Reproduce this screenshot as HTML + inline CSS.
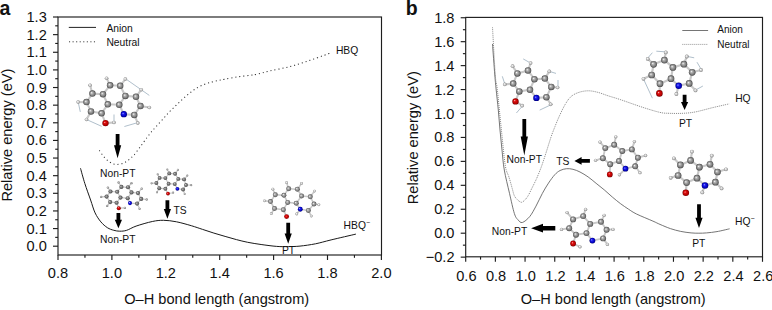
<!DOCTYPE html>
<html><head><meta charset="utf-8"><style>html,body{margin:0;padding:0;background:#fff;}svg{display:block;}</style></head><body>
<svg width="772" height="310" viewBox="0 0 772 310" font-family='"Liberation Sans", sans-serif' fill="#111">
<defs>
<radialGradient id="gC" cx="0.5" cy="0.5" r="0.5" fx="0.36" fy="0.36">
 <stop offset="0" stop-color="#c8c8c8"/><stop offset="0.35" stop-color="#8c8c8c"/><stop offset="0.8" stop-color="#5e5e5e"/><stop offset="1" stop-color="#444444"/></radialGradient>
<radialGradient id="gH" cx="0.5" cy="0.5" r="0.5" fx="0.36" fy="0.36">
 <stop offset="0" stop-color="#d4d4d4"/><stop offset="0.4" stop-color="#a8a8a8"/><stop offset="1" stop-color="#808080"/></radialGradient>
<radialGradient id="gO" cx="0.5" cy="0.5" r="0.5" fx="0.36" fy="0.36">
 <stop offset="0" stop-color="#ffb0b0"/><stop offset="0.3" stop-color="#e01010"/><stop offset="0.8" stop-color="#b00000"/><stop offset="1" stop-color="#700000"/></radialGradient>
<radialGradient id="gN" cx="0.5" cy="0.5" r="0.5" fx="0.36" fy="0.36">
 <stop offset="0" stop-color="#b0b0ff"/><stop offset="0.3" stop-color="#2020f0"/><stop offset="0.8" stop-color="#0000b8"/><stop offset="1" stop-color="#000070"/></radialGradient>
<radialGradient id="gCl" cx="0.5" cy="0.5" r="0.5" fx="0.36" fy="0.36">
 <stop offset="0" stop-color="#fafafa"/><stop offset="0.3" stop-color="#b4b4b4"/><stop offset="0.75" stop-color="#7a7a7a"/><stop offset="1" stop-color="#484848"/></radialGradient>
<radialGradient id="gHl" cx="0.5" cy="0.5" r="0.5" fx="0.36" fy="0.36">
 <stop offset="0" stop-color="#ffffff"/><stop offset="0.35" stop-color="#dedede"/><stop offset="0.8" stop-color="#a6a6a6"/><stop offset="1" stop-color="#7a7a7a"/></radialGradient>
</defs>
<rect width="772" height="310" fill="#fff"/>
<text x="-0.6" y="14.8" font-size="19.5" font-weight="bold">a</text>
<text x="405.8" y="14.8" font-size="19.5" font-weight="bold">b</text>
<rect x="58" y="17" width="323.5" height="238" fill="none" stroke="#1e1e1e" stroke-width="1.15"/>
<line x1="58" y1="255" x2="58" y2="260" stroke="#1e1e1e" stroke-width="1.15"/>
<line x1="111.9" y1="255" x2="111.9" y2="260" stroke="#1e1e1e" stroke-width="1.15"/>
<line x1="165.8" y1="255" x2="165.8" y2="260" stroke="#1e1e1e" stroke-width="1.15"/>
<line x1="219.7" y1="255" x2="219.7" y2="260" stroke="#1e1e1e" stroke-width="1.15"/>
<line x1="273.6" y1="255" x2="273.6" y2="260" stroke="#1e1e1e" stroke-width="1.15"/>
<line x1="327.5" y1="255" x2="327.5" y2="260" stroke="#1e1e1e" stroke-width="1.15"/>
<line x1="381.4" y1="255" x2="381.4" y2="260" stroke="#1e1e1e" stroke-width="1.15"/>
<line x1="84.95" y1="255" x2="84.95" y2="257.8" stroke="#1e1e1e" stroke-width="1.15"/>
<line x1="138.85" y1="255" x2="138.85" y2="257.8" stroke="#1e1e1e" stroke-width="1.15"/>
<line x1="192.75" y1="255" x2="192.75" y2="257.8" stroke="#1e1e1e" stroke-width="1.15"/>
<line x1="246.65" y1="255" x2="246.65" y2="257.8" stroke="#1e1e1e" stroke-width="1.15"/>
<line x1="300.55" y1="255" x2="300.55" y2="257.8" stroke="#1e1e1e" stroke-width="1.15"/>
<line x1="354.45" y1="255" x2="354.45" y2="257.8" stroke="#1e1e1e" stroke-width="1.15"/>
<line x1="53" y1="246.2" x2="58" y2="246.2" stroke="#1e1e1e" stroke-width="1.15"/>
<line x1="53" y1="228.57" x2="58" y2="228.57" stroke="#1e1e1e" stroke-width="1.15"/>
<line x1="53" y1="210.94" x2="58" y2="210.94" stroke="#1e1e1e" stroke-width="1.15"/>
<line x1="53" y1="193.31" x2="58" y2="193.31" stroke="#1e1e1e" stroke-width="1.15"/>
<line x1="53" y1="175.68" x2="58" y2="175.68" stroke="#1e1e1e" stroke-width="1.15"/>
<line x1="53" y1="158.05" x2="58" y2="158.05" stroke="#1e1e1e" stroke-width="1.15"/>
<line x1="53" y1="140.42" x2="58" y2="140.42" stroke="#1e1e1e" stroke-width="1.15"/>
<line x1="53" y1="122.79" x2="58" y2="122.79" stroke="#1e1e1e" stroke-width="1.15"/>
<line x1="53" y1="105.16" x2="58" y2="105.16" stroke="#1e1e1e" stroke-width="1.15"/>
<line x1="53" y1="87.53" x2="58" y2="87.53" stroke="#1e1e1e" stroke-width="1.15"/>
<line x1="53" y1="69.9" x2="58" y2="69.9" stroke="#1e1e1e" stroke-width="1.15"/>
<line x1="53" y1="52.27" x2="58" y2="52.27" stroke="#1e1e1e" stroke-width="1.15"/>
<line x1="53" y1="34.64" x2="58" y2="34.64" stroke="#1e1e1e" stroke-width="1.15"/>
<line x1="53" y1="17.01" x2="58" y2="17.01" stroke="#1e1e1e" stroke-width="1.15"/>
<line x1="55.2" y1="237.38" x2="58" y2="237.38" stroke="#1e1e1e" stroke-width="1.15"/>
<line x1="55.2" y1="219.75" x2="58" y2="219.75" stroke="#1e1e1e" stroke-width="1.15"/>
<line x1="55.2" y1="202.12" x2="58" y2="202.12" stroke="#1e1e1e" stroke-width="1.15"/>
<line x1="55.2" y1="184.49" x2="58" y2="184.49" stroke="#1e1e1e" stroke-width="1.15"/>
<line x1="55.2" y1="166.86" x2="58" y2="166.86" stroke="#1e1e1e" stroke-width="1.15"/>
<line x1="55.2" y1="149.23" x2="58" y2="149.23" stroke="#1e1e1e" stroke-width="1.15"/>
<line x1="55.2" y1="131.6" x2="58" y2="131.6" stroke="#1e1e1e" stroke-width="1.15"/>
<line x1="55.2" y1="113.97" x2="58" y2="113.97" stroke="#1e1e1e" stroke-width="1.15"/>
<line x1="55.2" y1="96.34" x2="58" y2="96.34" stroke="#1e1e1e" stroke-width="1.15"/>
<line x1="55.2" y1="78.71" x2="58" y2="78.71" stroke="#1e1e1e" stroke-width="1.15"/>
<line x1="55.2" y1="61.08" x2="58" y2="61.08" stroke="#1e1e1e" stroke-width="1.15"/>
<line x1="55.2" y1="43.45" x2="58" y2="43.45" stroke="#1e1e1e" stroke-width="1.15"/>
<line x1="55.2" y1="25.82" x2="58" y2="25.82" stroke="#1e1e1e" stroke-width="1.15"/>
<text x="58" y="278" text-anchor="middle" font-size="14.6">0.8</text>
<text x="111.9" y="278" text-anchor="middle" font-size="14.6">1.0</text>
<text x="165.8" y="278" text-anchor="middle" font-size="14.6">1.2</text>
<text x="219.7" y="278" text-anchor="middle" font-size="14.6">1.4</text>
<text x="273.6" y="278" text-anchor="middle" font-size="14.6">1.6</text>
<text x="327.5" y="278" text-anchor="middle" font-size="14.6">1.8</text>
<text x="381.4" y="278" text-anchor="middle" font-size="14.6">2.0</text>
<text x="46.8" y="251.2" text-anchor="end" font-size="14.6">0.0</text>
<text x="46.8" y="233.57" text-anchor="end" font-size="14.6">0.1</text>
<text x="46.8" y="215.94" text-anchor="end" font-size="14.6">0.2</text>
<text x="46.8" y="198.31" text-anchor="end" font-size="14.6">0.3</text>
<text x="46.8" y="180.68" text-anchor="end" font-size="14.6">0.4</text>
<text x="46.8" y="163.05" text-anchor="end" font-size="14.6">0.5</text>
<text x="46.8" y="145.42" text-anchor="end" font-size="14.6">0.6</text>
<text x="46.8" y="127.79" text-anchor="end" font-size="14.6">0.7</text>
<text x="46.8" y="110.16" text-anchor="end" font-size="14.6">0.8</text>
<text x="46.8" y="92.53" text-anchor="end" font-size="14.6">0.9</text>
<text x="46.8" y="74.9" text-anchor="end" font-size="14.6">1.0</text>
<text x="46.8" y="57.27" text-anchor="end" font-size="14.6">1.1</text>
<text x="46.8" y="39.64" text-anchor="end" font-size="14.6">1.2</text>
<text x="46.8" y="22.01" text-anchor="end" font-size="14.6">1.3</text>
<rect x="465.7" y="17.4" width="296.8" height="239.4" fill="none" stroke="#1e1e1e" stroke-width="1.15"/>
<line x1="465.7" y1="256.8" x2="465.7" y2="261.8" stroke="#1e1e1e" stroke-width="1.15"/>
<line x1="495.38" y1="256.8" x2="495.38" y2="261.8" stroke="#1e1e1e" stroke-width="1.15"/>
<line x1="525.06" y1="256.8" x2="525.06" y2="261.8" stroke="#1e1e1e" stroke-width="1.15"/>
<line x1="554.74" y1="256.8" x2="554.74" y2="261.8" stroke="#1e1e1e" stroke-width="1.15"/>
<line x1="584.42" y1="256.8" x2="584.42" y2="261.8" stroke="#1e1e1e" stroke-width="1.15"/>
<line x1="614.1" y1="256.8" x2="614.1" y2="261.8" stroke="#1e1e1e" stroke-width="1.15"/>
<line x1="643.78" y1="256.8" x2="643.78" y2="261.8" stroke="#1e1e1e" stroke-width="1.15"/>
<line x1="673.46" y1="256.8" x2="673.46" y2="261.8" stroke="#1e1e1e" stroke-width="1.15"/>
<line x1="703.14" y1="256.8" x2="703.14" y2="261.8" stroke="#1e1e1e" stroke-width="1.15"/>
<line x1="732.82" y1="256.8" x2="732.82" y2="261.8" stroke="#1e1e1e" stroke-width="1.15"/>
<line x1="762.5" y1="256.8" x2="762.5" y2="261.8" stroke="#1e1e1e" stroke-width="1.15"/>
<line x1="480.54" y1="256.8" x2="480.54" y2="259.6" stroke="#1e1e1e" stroke-width="1.15"/>
<line x1="510.22" y1="256.8" x2="510.22" y2="259.6" stroke="#1e1e1e" stroke-width="1.15"/>
<line x1="539.9" y1="256.8" x2="539.9" y2="259.6" stroke="#1e1e1e" stroke-width="1.15"/>
<line x1="569.58" y1="256.8" x2="569.58" y2="259.6" stroke="#1e1e1e" stroke-width="1.15"/>
<line x1="599.26" y1="256.8" x2="599.26" y2="259.6" stroke="#1e1e1e" stroke-width="1.15"/>
<line x1="628.94" y1="256.8" x2="628.94" y2="259.6" stroke="#1e1e1e" stroke-width="1.15"/>
<line x1="658.62" y1="256.8" x2="658.62" y2="259.6" stroke="#1e1e1e" stroke-width="1.15"/>
<line x1="688.3" y1="256.8" x2="688.3" y2="259.6" stroke="#1e1e1e" stroke-width="1.15"/>
<line x1="717.98" y1="256.8" x2="717.98" y2="259.6" stroke="#1e1e1e" stroke-width="1.15"/>
<line x1="747.66" y1="256.8" x2="747.66" y2="259.6" stroke="#1e1e1e" stroke-width="1.15"/>
<line x1="460.7" y1="257.14" x2="465.7" y2="257.14" stroke="#1e1e1e" stroke-width="1.15"/>
<line x1="460.7" y1="233.2" x2="465.7" y2="233.2" stroke="#1e1e1e" stroke-width="1.15"/>
<line x1="460.7" y1="209.26" x2="465.7" y2="209.26" stroke="#1e1e1e" stroke-width="1.15"/>
<line x1="460.7" y1="185.32" x2="465.7" y2="185.32" stroke="#1e1e1e" stroke-width="1.15"/>
<line x1="460.7" y1="161.38" x2="465.7" y2="161.38" stroke="#1e1e1e" stroke-width="1.15"/>
<line x1="460.7" y1="137.44" x2="465.7" y2="137.44" stroke="#1e1e1e" stroke-width="1.15"/>
<line x1="460.7" y1="113.5" x2="465.7" y2="113.5" stroke="#1e1e1e" stroke-width="1.15"/>
<line x1="460.7" y1="89.56" x2="465.7" y2="89.56" stroke="#1e1e1e" stroke-width="1.15"/>
<line x1="460.7" y1="65.62" x2="465.7" y2="65.62" stroke="#1e1e1e" stroke-width="1.15"/>
<line x1="460.7" y1="41.68" x2="465.7" y2="41.68" stroke="#1e1e1e" stroke-width="1.15"/>
<line x1="460.7" y1="17.74" x2="465.7" y2="17.74" stroke="#1e1e1e" stroke-width="1.15"/>
<line x1="462.9" y1="245.17" x2="465.7" y2="245.17" stroke="#1e1e1e" stroke-width="1.15"/>
<line x1="462.9" y1="221.23" x2="465.7" y2="221.23" stroke="#1e1e1e" stroke-width="1.15"/>
<line x1="462.9" y1="197.29" x2="465.7" y2="197.29" stroke="#1e1e1e" stroke-width="1.15"/>
<line x1="462.9" y1="173.35" x2="465.7" y2="173.35" stroke="#1e1e1e" stroke-width="1.15"/>
<line x1="462.9" y1="149.41" x2="465.7" y2="149.41" stroke="#1e1e1e" stroke-width="1.15"/>
<line x1="462.9" y1="125.47" x2="465.7" y2="125.47" stroke="#1e1e1e" stroke-width="1.15"/>
<line x1="462.9" y1="101.53" x2="465.7" y2="101.53" stroke="#1e1e1e" stroke-width="1.15"/>
<line x1="462.9" y1="77.59" x2="465.7" y2="77.59" stroke="#1e1e1e" stroke-width="1.15"/>
<line x1="462.9" y1="53.65" x2="465.7" y2="53.65" stroke="#1e1e1e" stroke-width="1.15"/>
<line x1="462.9" y1="29.71" x2="465.7" y2="29.71" stroke="#1e1e1e" stroke-width="1.15"/>
<text x="466.4" y="281.4" text-anchor="middle" font-size="14.6">0.6</text>
<text x="496.08" y="281.4" text-anchor="middle" font-size="14.6">0.8</text>
<text x="525.76" y="281.4" text-anchor="middle" font-size="14.6">1.0</text>
<text x="555.44" y="281.4" text-anchor="middle" font-size="14.6">1.2</text>
<text x="585.12" y="281.4" text-anchor="middle" font-size="14.6">1.4</text>
<text x="614.8" y="281.4" text-anchor="middle" font-size="14.6">1.6</text>
<text x="644.48" y="281.4" text-anchor="middle" font-size="14.6">1.8</text>
<text x="674.16" y="281.4" text-anchor="middle" font-size="14.6">2.0</text>
<text x="703.84" y="281.4" text-anchor="middle" font-size="14.6">2.2</text>
<text x="733.52" y="281.4" text-anchor="middle" font-size="14.6">2.4</text>
<text x="763.2" y="281.4" text-anchor="middle" font-size="14.6">2.6</text>
<text x="454.5" y="262.14" text-anchor="end" font-size="14.6">−0.2</text>
<text x="454.5" y="238.2" text-anchor="end" font-size="14.6">0.0</text>
<text x="454.5" y="214.26" text-anchor="end" font-size="14.6">0.2</text>
<text x="454.5" y="190.32" text-anchor="end" font-size="14.6">0.4</text>
<text x="454.5" y="166.38" text-anchor="end" font-size="14.6">0.6</text>
<text x="454.5" y="142.44" text-anchor="end" font-size="14.6">0.8</text>
<text x="454.5" y="118.5" text-anchor="end" font-size="14.6">1.0</text>
<text x="454.5" y="94.56" text-anchor="end" font-size="14.6">1.2</text>
<text x="454.5" y="70.62" text-anchor="end" font-size="14.6">1.4</text>
<text x="454.5" y="46.68" text-anchor="end" font-size="14.6">1.6</text>
<text x="454.5" y="22.74" text-anchor="end" font-size="14.6">1.8</text>
<text x="216.7" y="303.5" text-anchor="middle" font-size="14.6">O–H bond length (angstrom)</text>
<text x="613.2" y="303.5" text-anchor="middle" font-size="14.6">O–H bond length (angstrom)</text>
<text transform="translate(12.2,135.1) rotate(-90)" text-anchor="middle" font-size="14.6">Relative energy (eV)</text>
<text transform="translate(418.2,137.7) rotate(-90)" text-anchor="middle" font-size="14.6">Relative energy (eV)</text>
<line x1="68.8" y1="27.4" x2="96" y2="27.4" stroke="#222" stroke-width="1"/>
<line x1="69" y1="41.8" x2="96" y2="41.8" stroke="#3a3a3a" stroke-width="1" stroke-dasharray="1.1 2.46"/>
<text x="106.4" y="31.6" font-size="10.3">Anion</text>
<text x="106.4" y="45.5" font-size="10.3">Neutral</text>
<line x1="682.3" y1="30.5" x2="708.1" y2="30.5" stroke="#5c5c5c" stroke-width="0.85"/>
<line x1="682.3" y1="44.4" x2="708.1" y2="44.4" stroke="#888" stroke-width="0.9" stroke-dasharray="1 1"/>
<text x="717.3" y="33.1" font-size="10">Anion</text>
<text x="717.3" y="47.9" font-size="10">Neutral</text>
<path d="M80.5,168.3 C81.22,170.82 83.12,178.12 84.8,183.4 C86.48,188.68 88.88,195.08 90.6,200 C92.32,204.92 93.38,209.25 95.1,212.9 C96.82,216.55 98.85,219.43 100.9,221.9 C102.95,224.37 105.25,226.3 107.4,227.7 C109.55,229.1 111.73,229.72 113.8,230.3 C115.87,230.88 117.65,231.2 119.8,231.2 C121.95,231.2 123.98,231.15 126.7,230.3 C129.42,229.45 131.83,227.57 136.1,226.1 C140.37,224.63 147.73,222.47 152.3,221.5 C156.87,220.53 159.47,220.25 163.5,220.3 C167.53,220.35 171.87,220.9 176.5,221.8 C181.13,222.7 186.95,224.43 191.3,225.7 C195.65,226.97 198.83,228.17 202.6,229.4 C206.37,230.63 210.15,231.93 213.9,233.1 C217.65,234.27 221.35,235.32 225.1,236.4 C228.85,237.48 232.63,238.62 236.4,239.6 C240.17,240.58 243.58,241.48 247.7,242.3 C251.82,243.12 256.27,243.82 261.1,244.5 C265.93,245.18 272.17,246.05 276.7,246.4 C281.23,246.75 284.42,246.65 288.3,246.6 C292.18,246.55 295.47,246.57 300,246.1 C304.53,245.63 310.32,244.83 315.5,243.8 C320.68,242.77 324.37,241.52 331.1,239.9 C337.83,238.28 351.77,235.07 355.9,234.1" fill="none" stroke="#1a1a1a" stroke-width="1"/>
<path d="M99.3,150.4 C99.78,151.08 101.18,153.15 102.2,154.5 C103.22,155.85 104.27,157.33 105.4,158.5 C106.53,159.67 107.8,160.62 109,161.5 C110.2,162.38 111.43,163.32 112.6,163.8 C113.77,164.28 114.87,164.33 116,164.4 C117.13,164.47 118.2,164.38 119.4,164.2 C120.6,164.02 122,163.77 123.2,163.3 C124.4,162.83 125.43,162.2 126.6,161.4 C127.77,160.6 129.02,159.5 130.2,158.5 C131.38,157.5 132.02,157.35 133.7,155.4 C135.38,153.45 138.08,149.78 140.3,146.8 C142.52,143.82 145.07,140.08 147,137.5 C148.93,134.92 150.32,133.18 151.9,131.3 C153.48,129.42 154.6,128.32 156.5,126.2 C158.4,124.08 161.2,120.93 163.3,118.6 C165.4,116.27 167,114.38 169.1,112.2 C171.2,110.02 173.65,107.68 175.9,105.5 C178.15,103.32 180.35,101.13 182.6,99.1 C184.85,97.07 187.13,95.08 189.4,93.3 C191.67,91.52 193.77,89.87 196.2,88.4 C198.63,86.93 201.42,85.57 204,84.5 C206.58,83.43 209.28,82.67 211.7,82 C214.12,81.33 216.38,80.97 218.5,80.5 C220.62,80.03 221.27,79.8 224.4,79.2 C227.53,78.6 233.03,77.55 237.3,76.9 C241.57,76.25 246.73,75.75 250,75.3 C253.27,74.85 253.68,74.92 256.9,74.2 C260.12,73.48 263.93,72.23 269.3,71 C274.67,69.77 282.65,68.47 289.1,66.8 C295.55,65.13 302.27,62.88 308,61 C313.73,59.12 319.63,56.87 323.5,55.5 C327.37,54.13 329.92,53.25 331.2,52.8" fill="none" stroke="#333" stroke-width="1.05" stroke-dasharray="1.1 2.9"/>
<path d="M492.5,44 C492.88,49.17 494.2,67.5 494.8,75 C495.4,82.5 495.52,83.17 496.1,89 C496.68,94.83 497.65,103.17 498.3,110 C498.95,116.83 499.38,123.33 500,130 C500.62,136.67 501.28,143.33 502,150 C502.72,156.67 503.05,162.78 504.3,170 C505.55,177.22 507.82,186.03 509.5,193.3 C511.18,200.57 512.98,209.18 514.4,213.6 C515.82,218.02 516.68,218.32 518,219.8 C519.32,221.28 520.35,223.03 522.3,222.5 C524.25,221.97 527.42,219.33 529.7,216.6 C531.98,213.87 533.9,209.95 536,206.1 C538.1,202.25 540.22,197.33 542.3,193.5 C544.38,189.67 546.42,186.23 548.5,183.1 C550.58,179.97 552.87,176.8 554.8,174.7 C556.73,172.6 558.15,171.5 560.1,170.5 C562.05,169.5 564.35,168.9 566.5,168.7 C568.65,168.5 570.75,168.75 573,169.3 C575.25,169.85 577.48,170.73 580,172 C582.52,173.27 585.42,175.02 588.1,176.9 C590.78,178.78 593.42,181.15 596.1,183.3 C598.78,185.45 601.5,187.52 604.2,189.8 C606.9,192.08 609.62,194.72 612.3,197 C614.98,199.28 617.62,201.48 620.3,203.5 C622.98,205.52 625.7,207.35 628.4,209.1 C631.1,210.85 632.42,212 636.5,214 C640.58,216 648.98,219.37 652.9,221.1 C656.82,222.83 657.08,223.15 660,224.4 C662.92,225.65 666.95,227.43 670.4,228.6 C673.85,229.77 677.25,230.68 680.7,231.4 C684.15,232.12 688.07,232.6 691.1,232.9 C694.13,233.2 696.32,233.2 698.9,233.2 C701.48,233.2 703.58,233.17 706.6,232.9 C709.62,232.63 713.17,232.28 717,231.6 C720.83,230.92 727.5,229.27 729.6,228.8" fill="none" stroke="#5c5c5c" stroke-width="0.85"/>
<path d="M492.5,27.4 C492.97,35.33 494.5,64.68 495.3,75 C496.1,85.32 496.32,80.47 497.3,89.3 C498.28,98.13 499.88,115.38 501.2,128 C502.52,140.62 503.97,157 505.2,165 C506.43,173 507.77,173.3 508.6,176 C509.43,178.7 509.6,179.13 510.2,181.2 C510.8,183.27 511.52,186 512.2,188.4 C512.88,190.8 513.43,193.72 514.3,195.6 C515.17,197.48 516.2,198.58 517.4,199.7 C518.6,200.82 520.22,202.3 521.5,202.3 C522.78,202.3 523.98,200.82 525.1,199.7 C526.22,198.58 527.08,197.48 528.2,195.6 C529.32,193.72 530.68,190.63 531.8,188.4 C532.92,186.17 533.95,184.18 534.9,182.2 C535.85,180.22 536.38,179.18 537.5,176.5 C538.62,173.82 540.22,169.93 541.6,166.1 C542.98,162.27 544.22,158.38 545.8,153.5 C547.38,148.62 549.57,141.3 551.1,136.8 C552.63,132.3 553.62,129.97 555,126.5 C556.38,123.03 557.7,119.68 559.4,116 C561.1,112.32 563.27,107.63 565.2,104.4 C567.13,101.17 568.73,98.6 571,96.6 C573.27,94.6 575.9,93.37 578.8,92.4 C581.7,91.43 585.18,90.8 588.4,90.8 C591.62,90.8 594.87,91.58 598.1,92.4 C601.33,93.22 604.15,94.52 607.8,95.7 C611.45,96.88 614.15,97.55 620,99.5 C625.85,101.45 636.23,105.25 642.9,107.4 C649.57,109.55 655.67,111.42 660,112.4 C664.33,113.38 665.07,113.15 668.9,113.3 C672.73,113.45 678.57,113.53 683,113.3 C687.43,113.07 690.47,112.87 695.5,111.9 C700.53,110.93 707.6,108.83 713.2,107.5 C718.8,106.17 726.45,104.5 729.1,103.9" fill="none" stroke="#777" stroke-width="0.9" stroke-dasharray="1 1"/>
<text x="335.9" y="53.6" font-size="10.3">HBQ</text>
<text x="343.6" y="229.2" font-size="10.3">HBQ<tspan font-size="7" dy="-4">−</tspan></text>
<text x="100" y="176.9" font-size="10.3">Non-PT</text>
<text x="100" y="242.9" font-size="10.3">Non-PT</text>
<text x="173.5" y="213.7" font-size="10.3">TS</text>
<text x="281.9" y="254.2" font-size="10.3">PT</text>
<path d="M115.7,134 L119.5,134 L119.5,145.3 L121.2,145.3 L117.6,158.2 L114,145.3 L115.7,145.3 Z" fill="#000"/>
<path d="M116.5,213 L120.3,213 L120.3,219.8 L122,219.8 L118.4,228.3 L114.8,219.8 L116.5,219.8 Z" fill="#000"/>
<path d="M165.5,200.2 L169.3,200.2 L169.3,208.9 L171,208.9 L167.4,218.7 L163.8,208.9 L165.5,208.9 Z" fill="#000"/>
<path d="M286.3,222.8 L290.1,222.8 L290.1,233.4 L291.8,233.4 L288.2,243.8 L284.6,233.4 L286.3,233.4 Z" fill="#000"/>
<text x="735.2" y="101.6" font-size="10.3">HQ</text>
<text x="735.1" y="224.6" font-size="10.3">HQ<tspan font-size="7" dy="-4">−</tspan></text>
<text x="506.5" y="163" font-size="10.3">Non-PT</text>
<text x="491.8" y="234.7" font-size="10.3">Non-PT</text>
<text x="556.2" y="165.1" font-size="10.3">TS</text>
<text x="679" y="127" font-size="10.3">PT</text>
<text x="692.2" y="246.7" font-size="10.3">PT</text>
<path d="M522.4,118.9 L526.2,118.9 L526.2,136.6 L527.9,136.6 L524.3,155.5 L520.7,136.6 L522.4,136.6 Z" fill="#000"/>
<path d="M682.7,94.8 L686.5,94.8 L686.5,101.9 L688.2,101.9 L684.6,110 L681,101.9 L682.7,101.9 Z" fill="#000"/>
<path d="M697.1,204.2 L700.9,204.2 L700.9,217.8 L702.6,217.8 L699,228.1 L695.4,217.8 L697.1,217.8 Z" fill="#000"/>
<path d="M589.9,159 L581.6,159 L581.6,157 L574.4,160.9 L581.6,164.8 L581.6,162.8 L589.9,162.8 Z" fill="#000"/>
<path d="M555.3,226 L543,226 L543,223.8 L531.1,228.2 L543,232.6 L543,230.4 L555.3,230.4 Z" fill="#000"/>
<line x1="78.2" y1="102.1" x2="80.3" y2="111.9" stroke="#8ea4b4" stroke-width="0.7"/>
<line x1="86.5" y1="119.5" x2="101.6" y2="126.3" stroke="#8ea4b4" stroke-width="0.7"/>
<line x1="114" y1="114.5" x2="114" y2="122.5" stroke="#8ea4b4" stroke-width="0.7"/>
<line x1="125.3" y1="78.6" x2="149.3" y2="95.4" stroke="#8ea4b4" stroke-width="0.7"/>
<line x1="124.4" y1="126.5" x2="137.8" y2="122.6" stroke="#8ea4b4" stroke-width="0.7"/>
<line x1="110.1" y1="85.3" x2="120.2" y2="85.8" stroke="#c8c8c8" stroke-width="2.08"/>
<line x1="110.1" y1="85.3" x2="103" y2="94.2" stroke="#c8c8c8" stroke-width="2.08"/>
<line x1="120.2" y1="85.8" x2="125.4" y2="95.9" stroke="#c8c8c8" stroke-width="2.08"/>
<line x1="92.4" y1="93.6" x2="103" y2="94.2" stroke="#c8c8c8" stroke-width="2.08"/>
<line x1="92.4" y1="93.6" x2="86.5" y2="102.1" stroke="#c8c8c8" stroke-width="2.08"/>
<line x1="103" y1="94.2" x2="107.8" y2="104.3" stroke="#c8c8c8" stroke-width="2.08"/>
<line x1="125.4" y1="95.9" x2="136" y2="96.8" stroke="#c8c8c8" stroke-width="2.08"/>
<line x1="125.4" y1="95.9" x2="119.3" y2="104.8" stroke="#c8c8c8" stroke-width="2.08"/>
<line x1="136" y1="96.8" x2="140.5" y2="106" stroke="#c8c8c8" stroke-width="2.08"/>
<line x1="86.5" y1="102.1" x2="91" y2="111.4" stroke="#c8c8c8" stroke-width="2.08"/>
<line x1="107.8" y1="104.3" x2="119.3" y2="104.8" stroke="#c8c8c8" stroke-width="2.08"/>
<line x1="107.8" y1="104.3" x2="101.6" y2="113.3" stroke="#c8c8c8" stroke-width="2.08"/>
<line x1="119.3" y1="104.8" x2="123.8" y2="114.2" stroke="#c8c8c8" stroke-width="2.08"/>
<line x1="140.5" y1="106" x2="134.3" y2="114.9" stroke="#c8c8c8" stroke-width="2.08"/>
<line x1="91" y1="111.4" x2="101.6" y2="113.3" stroke="#c8c8c8" stroke-width="2.08"/>
<line x1="101.6" y1="113.3" x2="105.5" y2="123.1" stroke="#c8c8c8" stroke-width="2.08"/>
<line x1="134.3" y1="114.9" x2="123.8" y2="114.2" stroke="#c8c8c8" stroke-width="2.08"/>
<line x1="106.6" y1="78.2" x2="110.1" y2="85.3" stroke="#c8c8c8" stroke-width="2.08"/>
<line x1="125.4" y1="79.1" x2="120.2" y2="85.8" stroke="#c8c8c8" stroke-width="2.08"/>
<line x1="90.1" y1="85.3" x2="92.4" y2="93.6" stroke="#c8c8c8" stroke-width="2.08"/>
<line x1="141.3" y1="89.7" x2="136" y2="96.8" stroke="#c8c8c8" stroke-width="2.08"/>
<line x1="78.2" y1="102.1" x2="86.5" y2="102.1" stroke="#c8c8c8" stroke-width="2.08"/>
<line x1="149.3" y1="107.5" x2="140.5" y2="106" stroke="#c8c8c8" stroke-width="2.08"/>
<line x1="86.5" y1="119.5" x2="91" y2="111.4" stroke="#c8c8c8" stroke-width="2.08"/>
<line x1="114" y1="122.5" x2="105.5" y2="123.1" stroke="#c8c8c8" stroke-width="2.08"/>
<line x1="137.8" y1="123.1" x2="134.3" y2="114.9" stroke="#c8c8c8" stroke-width="2.08"/>
<circle cx="106.6" cy="78.2" r="1.82" fill="url(#gHl)"/>
<circle cx="125.4" cy="79.1" r="1.82" fill="url(#gHl)"/>
<circle cx="90.1" cy="85.3" r="1.82" fill="url(#gHl)"/>
<circle cx="141.3" cy="89.7" r="1.82" fill="url(#gHl)"/>
<circle cx="78.2" cy="102.1" r="1.82" fill="url(#gHl)"/>
<circle cx="149.3" cy="107.5" r="1.82" fill="url(#gHl)"/>
<circle cx="86.5" cy="119.5" r="1.82" fill="url(#gHl)"/>
<circle cx="114" cy="122.5" r="1.82" fill="url(#gHl)"/>
<circle cx="137.8" cy="123.1" r="1.82" fill="url(#gHl)"/>
<circle cx="110.1" cy="85.3" r="3.23" fill="url(#gCl)"/>
<circle cx="120.2" cy="85.8" r="3.23" fill="url(#gCl)"/>
<circle cx="92.4" cy="93.6" r="3.23" fill="url(#gCl)"/>
<circle cx="103" cy="94.2" r="3.23" fill="url(#gCl)"/>
<circle cx="125.4" cy="95.9" r="3.23" fill="url(#gCl)"/>
<circle cx="136" cy="96.8" r="3.23" fill="url(#gCl)"/>
<circle cx="86.5" cy="102.1" r="3.23" fill="url(#gCl)"/>
<circle cx="107.8" cy="104.3" r="3.23" fill="url(#gCl)"/>
<circle cx="119.3" cy="104.8" r="3.23" fill="url(#gCl)"/>
<circle cx="140.5" cy="106" r="3.23" fill="url(#gCl)"/>
<circle cx="91" cy="111.4" r="3.23" fill="url(#gCl)"/>
<circle cx="101.6" cy="113.3" r="3.23" fill="url(#gCl)"/>
<circle cx="123.8" cy="114.2" r="3.17" fill="url(#gN)"/>
<circle cx="134.3" cy="114.9" r="3.23" fill="url(#gCl)"/>
<circle cx="105.5" cy="123.1" r="3.17" fill="url(#gO)"/>
<line x1="121.4" y1="186.9" x2="128" y2="187.3" stroke="#c8c8c8" stroke-width="1.25"/>
<line x1="121.4" y1="186.9" x2="117.2" y2="191.8" stroke="#c8c8c8" stroke-width="1.25"/>
<line x1="128" y1="187.3" x2="131.5" y2="192.4" stroke="#c8c8c8" stroke-width="1.25"/>
<line x1="110.5" y1="191.5" x2="117.2" y2="191.8" stroke="#c8c8c8" stroke-width="1.25"/>
<line x1="110.5" y1="191.5" x2="106.6" y2="196.6" stroke="#c8c8c8" stroke-width="1.25"/>
<line x1="117.2" y1="191.8" x2="120.5" y2="197.6" stroke="#c8c8c8" stroke-width="1.25"/>
<line x1="131.5" y1="192.4" x2="138" y2="193.1" stroke="#c8c8c8" stroke-width="1.25"/>
<line x1="131.5" y1="192.4" x2="127.7" y2="198.2" stroke="#c8c8c8" stroke-width="1.25"/>
<line x1="138" y1="193.1" x2="141.2" y2="198.9" stroke="#c8c8c8" stroke-width="1.25"/>
<line x1="106.6" y1="196.6" x2="110.2" y2="202.1" stroke="#c8c8c8" stroke-width="1.25"/>
<line x1="120.5" y1="197.6" x2="127.7" y2="198.2" stroke="#c8c8c8" stroke-width="1.25"/>
<line x1="120.5" y1="197.6" x2="116.6" y2="202.7" stroke="#c8c8c8" stroke-width="1.25"/>
<line x1="127.7" y1="198.2" x2="130" y2="203.1" stroke="#c8c8c8" stroke-width="1.25"/>
<line x1="141.2" y1="198.9" x2="137.1" y2="203.6" stroke="#c8c8c8" stroke-width="1.25"/>
<line x1="110.2" y1="202.1" x2="116.6" y2="202.7" stroke="#c8c8c8" stroke-width="1.25"/>
<line x1="116.6" y1="202.7" x2="118.8" y2="208.2" stroke="#c8c8c8" stroke-width="1.25"/>
<line x1="137.1" y1="203.6" x2="130" y2="203.1" stroke="#c8c8c8" stroke-width="1.25"/>
<line x1="118.6" y1="182.5" x2="121.4" y2="186.9" stroke="#c8c8c8" stroke-width="1.25"/>
<line x1="131.5" y1="183.2" x2="128" y2="187.3" stroke="#c8c8c8" stroke-width="1.25"/>
<line x1="107.9" y1="187.6" x2="110.5" y2="191.5" stroke="#c8c8c8" stroke-width="1.25"/>
<line x1="141.7" y1="188.7" x2="138" y2="193.1" stroke="#c8c8c8" stroke-width="1.25"/>
<line x1="101.2" y1="196.9" x2="106.6" y2="196.6" stroke="#c8c8c8" stroke-width="1.25"/>
<line x1="146.7" y1="199.5" x2="141.2" y2="198.9" stroke="#c8c8c8" stroke-width="1.25"/>
<line x1="107.2" y1="205.9" x2="110.2" y2="202.1" stroke="#c8c8c8" stroke-width="1.25"/>
<line x1="124.9" y1="207.9" x2="118.8" y2="208.2" stroke="#c8c8c8" stroke-width="1.25"/>
<line x1="139.6" y1="208.8" x2="137.1" y2="203.6" stroke="#c8c8c8" stroke-width="1.25"/>
<circle cx="118.6" cy="182.5" r="1.17" fill="url(#gH)"/>
<circle cx="131.5" cy="183.2" r="1.17" fill="url(#gH)"/>
<circle cx="107.9" cy="187.6" r="1.17" fill="url(#gH)"/>
<circle cx="141.7" cy="188.7" r="1.17" fill="url(#gH)"/>
<circle cx="101.2" cy="196.9" r="1.17" fill="url(#gH)"/>
<circle cx="146.7" cy="199.5" r="1.17" fill="url(#gH)"/>
<circle cx="107.2" cy="205.9" r="1.17" fill="url(#gH)"/>
<circle cx="124.9" cy="207.9" r="1.17" fill="url(#gH)"/>
<circle cx="139.6" cy="208.8" r="1.17" fill="url(#gH)"/>
<circle cx="121.4" cy="186.9" r="2.07" fill="url(#gC)"/>
<circle cx="128" cy="187.3" r="2.07" fill="url(#gC)"/>
<circle cx="110.5" cy="191.5" r="2.07" fill="url(#gC)"/>
<circle cx="117.2" cy="191.8" r="2.07" fill="url(#gC)"/>
<circle cx="131.5" cy="192.4" r="2.07" fill="url(#gC)"/>
<circle cx="138" cy="193.1" r="2.07" fill="url(#gC)"/>
<circle cx="106.6" cy="196.6" r="2.07" fill="url(#gC)"/>
<circle cx="120.5" cy="197.6" r="2.07" fill="url(#gC)"/>
<circle cx="127.7" cy="198.2" r="2.07" fill="url(#gC)"/>
<circle cx="141.2" cy="198.9" r="2.07" fill="url(#gC)"/>
<circle cx="110.2" cy="202.1" r="2.07" fill="url(#gC)"/>
<circle cx="116.6" cy="202.7" r="2.07" fill="url(#gC)"/>
<circle cx="130" cy="203.1" r="2.03" fill="url(#gN)"/>
<circle cx="137.1" cy="203.6" r="2.07" fill="url(#gC)"/>
<circle cx="118.8" cy="208.2" r="2.03" fill="url(#gO)"/>
<line x1="169.3" y1="173.4" x2="175.1" y2="173.8" stroke="#c8c8c8" stroke-width="1.16"/>
<line x1="169.3" y1="173.4" x2="165.4" y2="178.1" stroke="#c8c8c8" stroke-width="1.16"/>
<line x1="175.1" y1="173.8" x2="178.3" y2="178.9" stroke="#c8c8c8" stroke-width="1.16"/>
<line x1="159.6" y1="177.9" x2="165.4" y2="178.1" stroke="#c8c8c8" stroke-width="1.16"/>
<line x1="159.6" y1="177.9" x2="156.4" y2="183" stroke="#c8c8c8" stroke-width="1.16"/>
<line x1="165.4" y1="178.1" x2="168.6" y2="183.7" stroke="#c8c8c8" stroke-width="1.16"/>
<line x1="178.3" y1="178.9" x2="184.1" y2="179.4" stroke="#c8c8c8" stroke-width="1.16"/>
<line x1="178.3" y1="178.9" x2="174.8" y2="184.1" stroke="#c8c8c8" stroke-width="1.16"/>
<line x1="184.1" y1="179.4" x2="186" y2="185" stroke="#c8c8c8" stroke-width="1.16"/>
<line x1="156.4" y1="183" x2="159.3" y2="188.2" stroke="#c8c8c8" stroke-width="1.16"/>
<line x1="168.6" y1="183.7" x2="174.8" y2="184.1" stroke="#c8c8c8" stroke-width="1.16"/>
<line x1="168.6" y1="183.7" x2="165.4" y2="188.8" stroke="#c8c8c8" stroke-width="1.16"/>
<line x1="174.8" y1="184.1" x2="177.4" y2="188.8" stroke="#c8c8c8" stroke-width="1.16"/>
<line x1="186" y1="185" x2="183.1" y2="189.5" stroke="#c8c8c8" stroke-width="1.16"/>
<line x1="159.3" y1="188.2" x2="165.4" y2="188.8" stroke="#c8c8c8" stroke-width="1.16"/>
<line x1="165.4" y1="188.8" x2="168" y2="193.6" stroke="#c8c8c8" stroke-width="1.16"/>
<line x1="183.1" y1="189.5" x2="177.4" y2="188.8" stroke="#c8c8c8" stroke-width="1.16"/>
<line x1="167.3" y1="169.5" x2="169.3" y2="173.4" stroke="#c8c8c8" stroke-width="1.16"/>
<line x1="177.9" y1="169.9" x2="175.1" y2="173.8" stroke="#c8c8c8" stroke-width="1.16"/>
<line x1="157.7" y1="174.3" x2="159.6" y2="177.9" stroke="#c8c8c8" stroke-width="1.16"/>
<line x1="187.3" y1="175.6" x2="184.1" y2="179.4" stroke="#c8c8c8" stroke-width="1.16"/>
<line x1="151.6" y1="183.3" x2="156.4" y2="183" stroke="#c8c8c8" stroke-width="1.16"/>
<line x1="191.2" y1="185.2" x2="186" y2="185" stroke="#c8c8c8" stroke-width="1.16"/>
<line x1="157" y1="192.3" x2="159.3" y2="188.2" stroke="#c8c8c8" stroke-width="1.16"/>
<line x1="173.1" y1="192.7" x2="168" y2="193.6" stroke="#c8c8c8" stroke-width="1.16"/>
<line x1="184.7" y1="194" x2="183.1" y2="189.5" stroke="#c8c8c8" stroke-width="1.16"/>
<circle cx="167.3" cy="169.5" r="1.09" fill="url(#gH)"/>
<circle cx="177.9" cy="169.9" r="1.09" fill="url(#gH)"/>
<circle cx="157.7" cy="174.3" r="1.09" fill="url(#gH)"/>
<circle cx="187.3" cy="175.6" r="1.09" fill="url(#gH)"/>
<circle cx="151.6" cy="183.3" r="1.09" fill="url(#gH)"/>
<circle cx="191.2" cy="185.2" r="1.09" fill="url(#gH)"/>
<circle cx="157" cy="192.3" r="1.09" fill="url(#gH)"/>
<circle cx="173.1" cy="192.7" r="1.09" fill="url(#gH)"/>
<circle cx="184.7" cy="194" r="1.09" fill="url(#gH)"/>
<circle cx="169.3" cy="173.4" r="1.93" fill="url(#gC)"/>
<circle cx="175.1" cy="173.8" r="1.93" fill="url(#gC)"/>
<circle cx="159.6" cy="177.9" r="1.93" fill="url(#gC)"/>
<circle cx="165.4" cy="178.1" r="1.93" fill="url(#gC)"/>
<circle cx="178.3" cy="178.9" r="1.93" fill="url(#gC)"/>
<circle cx="184.1" cy="179.4" r="1.93" fill="url(#gC)"/>
<circle cx="156.4" cy="183" r="1.93" fill="url(#gC)"/>
<circle cx="168.6" cy="183.7" r="1.93" fill="url(#gC)"/>
<circle cx="174.8" cy="184.1" r="1.93" fill="url(#gC)"/>
<circle cx="186" cy="185" r="1.93" fill="url(#gC)"/>
<circle cx="159.3" cy="188.2" r="1.93" fill="url(#gC)"/>
<circle cx="165.4" cy="188.8" r="1.93" fill="url(#gC)"/>
<circle cx="177.4" cy="188.8" r="1.89" fill="url(#gN)"/>
<circle cx="183.1" cy="189.5" r="1.93" fill="url(#gC)"/>
<circle cx="168" cy="193.6" r="1.89" fill="url(#gO)"/>
<line x1="288.7" y1="188.7" x2="297.4" y2="189.2" stroke="#c8c8c8" stroke-width="1.6"/>
<line x1="288.7" y1="188.7" x2="283.9" y2="195.2" stroke="#c8c8c8" stroke-width="1.6"/>
<line x1="297.4" y1="189.2" x2="301.6" y2="196" stroke="#c8c8c8" stroke-width="1.6"/>
<line x1="275.3" y1="194.7" x2="283.9" y2="195.2" stroke="#c8c8c8" stroke-width="1.6"/>
<line x1="275.3" y1="194.7" x2="270.5" y2="201.6" stroke="#c8c8c8" stroke-width="1.6"/>
<line x1="283.9" y1="195.2" x2="287.7" y2="202.4" stroke="#c8c8c8" stroke-width="1.6"/>
<line x1="301.6" y1="196" x2="310.3" y2="196.8" stroke="#c8c8c8" stroke-width="1.6"/>
<line x1="301.6" y1="196" x2="296.3" y2="203.2" stroke="#c8c8c8" stroke-width="1.6"/>
<line x1="310.3" y1="196.8" x2="314" y2="204" stroke="#c8c8c8" stroke-width="1.6"/>
<line x1="270.5" y1="201.6" x2="274.5" y2="208.5" stroke="#c8c8c8" stroke-width="1.6"/>
<line x1="287.7" y1="202.4" x2="296.3" y2="203.2" stroke="#c8c8c8" stroke-width="1.6"/>
<line x1="287.7" y1="202.4" x2="283.4" y2="209.7" stroke="#c8c8c8" stroke-width="1.6"/>
<line x1="296.3" y1="203.2" x2="300.3" y2="209.2" stroke="#c8c8c8" stroke-width="1.6"/>
<line x1="314" y1="204" x2="308.4" y2="210.5" stroke="#c8c8c8" stroke-width="1.6"/>
<line x1="274.5" y1="208.5" x2="283.4" y2="209.7" stroke="#c8c8c8" stroke-width="1.6"/>
<line x1="283.4" y1="209.7" x2="286.6" y2="216.6" stroke="#c8c8c8" stroke-width="1.6"/>
<line x1="308.4" y1="210.5" x2="300.3" y2="209.2" stroke="#c8c8c8" stroke-width="1.6"/>
<line x1="286.6" y1="182.7" x2="288.7" y2="188.7" stroke="#c8c8c8" stroke-width="1.6"/>
<line x1="301.6" y1="183.4" x2="297.4" y2="189.2" stroke="#c8c8c8" stroke-width="1.6"/>
<line x1="272.9" y1="189.2" x2="275.3" y2="194.7" stroke="#c8c8c8" stroke-width="1.6"/>
<line x1="314.5" y1="191.1" x2="310.3" y2="196.8" stroke="#c8c8c8" stroke-width="1.6"/>
<line x1="264.5" y1="200.8" x2="270.5" y2="201.6" stroke="#c8c8c8" stroke-width="1.6"/>
<line x1="318.9" y1="204.8" x2="314" y2="204" stroke="#c8c8c8" stroke-width="1.6"/>
<line x1="271.3" y1="213.7" x2="274.5" y2="208.5" stroke="#c8c8c8" stroke-width="1.6"/>
<line x1="296.8" y1="214" x2="300.3" y2="209.2" stroke="#c8c8c8" stroke-width="1.6"/>
<line x1="311.3" y1="216.1" x2="308.4" y2="210.5" stroke="#c8c8c8" stroke-width="1.6"/>
<circle cx="286.6" cy="182.7" r="1.4" fill="url(#gHl)"/>
<circle cx="301.6" cy="183.4" r="1.4" fill="url(#gHl)"/>
<circle cx="272.9" cy="189.2" r="1.4" fill="url(#gHl)"/>
<circle cx="314.5" cy="191.1" r="1.4" fill="url(#gHl)"/>
<circle cx="264.5" cy="200.8" r="1.4" fill="url(#gHl)"/>
<circle cx="318.9" cy="204.8" r="1.4" fill="url(#gHl)"/>
<circle cx="271.3" cy="213.7" r="1.4" fill="url(#gHl)"/>
<circle cx="296.8" cy="214" r="1.4" fill="url(#gHl)"/>
<circle cx="311.3" cy="216.1" r="1.4" fill="url(#gHl)"/>
<circle cx="288.7" cy="188.7" r="2.48" fill="url(#gCl)"/>
<circle cx="297.4" cy="189.2" r="2.48" fill="url(#gCl)"/>
<circle cx="275.3" cy="194.7" r="2.48" fill="url(#gCl)"/>
<circle cx="283.9" cy="195.2" r="2.48" fill="url(#gCl)"/>
<circle cx="301.6" cy="196" r="2.48" fill="url(#gCl)"/>
<circle cx="310.3" cy="196.8" r="2.48" fill="url(#gCl)"/>
<circle cx="270.5" cy="201.6" r="2.48" fill="url(#gCl)"/>
<circle cx="287.7" cy="202.4" r="2.48" fill="url(#gCl)"/>
<circle cx="296.3" cy="203.2" r="2.48" fill="url(#gCl)"/>
<circle cx="314" cy="204" r="2.48" fill="url(#gCl)"/>
<circle cx="274.5" cy="208.5" r="2.48" fill="url(#gCl)"/>
<circle cx="300.3" cy="209.2" r="2.43" fill="url(#gN)"/>
<circle cx="283.4" cy="209.7" r="2.48" fill="url(#gCl)"/>
<circle cx="308.4" cy="210.5" r="2.48" fill="url(#gCl)"/>
<circle cx="286.6" cy="216.6" r="2.43" fill="url(#gO)"/>
<line x1="523.2" y1="58.9" x2="530.6" y2="63.1" stroke="#8ea4b4" stroke-width="0.7"/>
<line x1="502.3" y1="76.3" x2="504.8" y2="84" stroke="#8ea4b4" stroke-width="0.7"/>
<line x1="549.3" y1="71.4" x2="556" y2="73.4" stroke="#8ea4b4" stroke-width="0.7"/>
<line x1="558" y1="80" x2="558" y2="88" stroke="#8ea4b4" stroke-width="0.7"/>
<line x1="539.7" y1="110.1" x2="550.7" y2="104.9" stroke="#8ea4b4" stroke-width="0.7"/>
<line x1="516.4" y1="113" x2="522.2" y2="106.3" stroke="#8ea4b4" stroke-width="0.7"/>
<line x1="528" y1="70.5" x2="517.4" y2="73.4" stroke="#c8c8c8" stroke-width="2.1"/>
<line x1="528" y1="70.5" x2="534.4" y2="79.2" stroke="#c8c8c8" stroke-width="2.1"/>
<line x1="517.4" y1="73.4" x2="513.2" y2="83.6" stroke="#c8c8c8" stroke-width="2.1"/>
<line x1="544.9" y1="78.6" x2="534.4" y2="79.2" stroke="#c8c8c8" stroke-width="2.1"/>
<line x1="544.9" y1="78.6" x2="551.3" y2="86.9" stroke="#c8c8c8" stroke-width="2.1"/>
<line x1="534.4" y1="79.2" x2="530" y2="89.8" stroke="#c8c8c8" stroke-width="2.1"/>
<line x1="513.2" y1="83.6" x2="519.3" y2="91.4" stroke="#c8c8c8" stroke-width="2.1"/>
<line x1="551.3" y1="86.9" x2="546.4" y2="97.2" stroke="#c8c8c8" stroke-width="2.1"/>
<line x1="530" y1="89.8" x2="519.3" y2="91.4" stroke="#c8c8c8" stroke-width="2.1"/>
<line x1="530" y1="89.8" x2="536.4" y2="97.9" stroke="#c8c8c8" stroke-width="2.1"/>
<line x1="519.3" y1="91.4" x2="515.5" y2="101.4" stroke="#c8c8c8" stroke-width="2.1"/>
<line x1="546.4" y1="97.2" x2="536.4" y2="97.9" stroke="#c8c8c8" stroke-width="2.1"/>
<line x1="530.6" y1="63.1" x2="528" y2="70.5" stroke="#c8c8c8" stroke-width="2.1"/>
<line x1="512.6" y1="66.2" x2="517.4" y2="73.4" stroke="#c8c8c8" stroke-width="2.1"/>
<line x1="549.3" y1="71.4" x2="544.9" y2="78.6" stroke="#c8c8c8" stroke-width="2.1"/>
<line x1="504.8" y1="84.4" x2="513.2" y2="83.6" stroke="#c8c8c8" stroke-width="2.1"/>
<line x1="557.6" y1="87.5" x2="551.3" y2="86.9" stroke="#c8c8c8" stroke-width="2.1"/>
<line x1="522.2" y1="105.7" x2="515.5" y2="101.4" stroke="#c8c8c8" stroke-width="2.1"/>
<line x1="550.7" y1="104.3" x2="546.4" y2="97.2" stroke="#c8c8c8" stroke-width="2.1"/>
<circle cx="530.6" cy="63.1" r="1.83" fill="url(#gHl)"/>
<circle cx="512.6" cy="66.2" r="1.83" fill="url(#gHl)"/>
<circle cx="549.3" cy="71.4" r="1.83" fill="url(#gHl)"/>
<circle cx="504.8" cy="84.4" r="1.83" fill="url(#gHl)"/>
<circle cx="557.6" cy="87.5" r="1.83" fill="url(#gHl)"/>
<circle cx="550.7" cy="104.3" r="1.83" fill="url(#gHl)"/>
<circle cx="522.2" cy="105.7" r="1.83" fill="url(#gHl)"/>
<circle cx="528" cy="70.5" r="3.25" fill="url(#gCl)"/>
<circle cx="517.4" cy="73.4" r="3.25" fill="url(#gCl)"/>
<circle cx="544.9" cy="78.6" r="3.25" fill="url(#gCl)"/>
<circle cx="534.4" cy="79.2" r="3.25" fill="url(#gCl)"/>
<circle cx="513.2" cy="83.6" r="3.25" fill="url(#gCl)"/>
<circle cx="551.3" cy="86.9" r="3.25" fill="url(#gCl)"/>
<circle cx="530" cy="89.8" r="3.25" fill="url(#gCl)"/>
<circle cx="519.3" cy="91.4" r="3.25" fill="url(#gCl)"/>
<circle cx="546.4" cy="97.2" r="3.25" fill="url(#gCl)"/>
<circle cx="536.4" cy="97.9" r="3.18" fill="url(#gN)"/>
<circle cx="515.5" cy="101.4" r="3.18" fill="url(#gO)"/>
<line x1="656.3" y1="51.2" x2="665" y2="51.8" stroke="#8ea4b4" stroke-width="0.7"/>
<line x1="652.4" y1="52.7" x2="647.6" y2="58.2" stroke="#8ea4b4" stroke-width="0.7"/>
<line x1="643.7" y1="79.4" x2="652.4" y2="98.2" stroke="#8ea4b4" stroke-width="0.7"/>
<line x1="687" y1="56.4" x2="694.2" y2="57.8" stroke="#8ea4b4" stroke-width="0.7"/>
<line x1="697" y1="62.2" x2="701" y2="69" stroke="#8ea4b4" stroke-width="0.7"/>
<line x1="695.1" y1="90.3" x2="702.9" y2="86" stroke="#8ea4b4" stroke-width="0.7"/>
<line x1="664.4" y1="60.1" x2="653.6" y2="64.3" stroke="#c8c8c8" stroke-width="2.17"/>
<line x1="664.4" y1="60.1" x2="672.9" y2="67.4" stroke="#c8c8c8" stroke-width="2.17"/>
<line x1="653.6" y1="64.3" x2="651.7" y2="75" stroke="#c8c8c8" stroke-width="2.17"/>
<line x1="672.9" y1="67.4" x2="683.9" y2="64.2" stroke="#c8c8c8" stroke-width="2.17"/>
<line x1="672.9" y1="67.4" x2="671" y2="78.7" stroke="#c8c8c8" stroke-width="2.17"/>
<line x1="683.9" y1="64.2" x2="692.2" y2="72.3" stroke="#c8c8c8" stroke-width="2.17"/>
<line x1="651.7" y1="75" x2="660" y2="83.7" stroke="#c8c8c8" stroke-width="2.17"/>
<line x1="692.2" y1="72.3" x2="689.2" y2="83.4" stroke="#c8c8c8" stroke-width="2.17"/>
<line x1="671" y1="78.7" x2="660" y2="83.7" stroke="#c8c8c8" stroke-width="2.17"/>
<line x1="671" y1="78.7" x2="678.7" y2="85.8" stroke="#c8c8c8" stroke-width="2.17"/>
<line x1="660" y1="83.7" x2="659.4" y2="93.4" stroke="#c8c8c8" stroke-width="2.17"/>
<line x1="689.2" y1="83.4" x2="678.7" y2="85.8" stroke="#c8c8c8" stroke-width="2.17"/>
<line x1="665.8" y1="52.4" x2="664.4" y2="60.1" stroke="#c8c8c8" stroke-width="2.17"/>
<line x1="647.8" y1="58.9" x2="653.6" y2="64.3" stroke="#c8c8c8" stroke-width="2.17"/>
<line x1="686.8" y1="56.5" x2="683.9" y2="64.2" stroke="#c8c8c8" stroke-width="2.17"/>
<line x1="643.5" y1="78.8" x2="651.7" y2="75" stroke="#c8c8c8" stroke-width="2.17"/>
<line x1="701" y1="70" x2="692.2" y2="72.3" stroke="#c8c8c8" stroke-width="2.17"/>
<line x1="695.5" y1="90.4" x2="689.2" y2="83.4" stroke="#c8c8c8" stroke-width="2.17"/>
<line x1="676.4" y1="94" x2="678.7" y2="85.8" stroke="#c8c8c8" stroke-width="2.17"/>
<circle cx="665.8" cy="52.4" r="1.9" fill="url(#gHl)"/>
<circle cx="686.8" cy="56.5" r="1.9" fill="url(#gHl)"/>
<circle cx="647.8" cy="58.9" r="1.9" fill="url(#gHl)"/>
<circle cx="701" cy="70" r="1.9" fill="url(#gHl)"/>
<circle cx="643.5" cy="78.8" r="1.9" fill="url(#gHl)"/>
<circle cx="695.5" cy="90.4" r="1.9" fill="url(#gHl)"/>
<circle cx="676.4" cy="94" r="1.9" fill="url(#gHl)"/>
<circle cx="664.4" cy="60.1" r="3.37" fill="url(#gCl)"/>
<circle cx="683.9" cy="64.2" r="3.37" fill="url(#gCl)"/>
<circle cx="653.6" cy="64.3" r="3.37" fill="url(#gCl)"/>
<circle cx="672.9" cy="67.4" r="3.37" fill="url(#gCl)"/>
<circle cx="692.2" cy="72.3" r="3.37" fill="url(#gCl)"/>
<circle cx="651.7" cy="75" r="3.37" fill="url(#gCl)"/>
<circle cx="671" cy="78.7" r="3.37" fill="url(#gCl)"/>
<circle cx="689.2" cy="83.4" r="3.37" fill="url(#gCl)"/>
<circle cx="660" cy="83.7" r="3.37" fill="url(#gCl)"/>
<circle cx="678.7" cy="85.8" r="3.3" fill="url(#gN)"/>
<circle cx="659.4" cy="93.4" r="3.3" fill="url(#gO)"/>
<line x1="614.2" y1="144.8" x2="605.3" y2="148.1" stroke="#c8c8c8" stroke-width="1.9"/>
<line x1="614.2" y1="144.8" x2="622.3" y2="151" stroke="#c8c8c8" stroke-width="1.9"/>
<line x1="605.3" y1="148.1" x2="602.9" y2="158.2" stroke="#c8c8c8" stroke-width="1.9"/>
<line x1="622.3" y1="151" x2="631.9" y2="149.4" stroke="#c8c8c8" stroke-width="1.9"/>
<line x1="622.3" y1="151" x2="619" y2="161" stroke="#c8c8c8" stroke-width="1.9"/>
<line x1="631.9" y1="149.4" x2="637.9" y2="157.7" stroke="#c8c8c8" stroke-width="1.9"/>
<line x1="602.9" y1="158.2" x2="610.2" y2="164.2" stroke="#c8c8c8" stroke-width="1.9"/>
<line x1="637.9" y1="157.7" x2="635.2" y2="166.3" stroke="#c8c8c8" stroke-width="1.9"/>
<line x1="619" y1="161" x2="610.2" y2="164.2" stroke="#c8c8c8" stroke-width="1.9"/>
<line x1="619" y1="161" x2="625.5" y2="168.7" stroke="#c8c8c8" stroke-width="1.9"/>
<line x1="610.2" y1="164.2" x2="609.8" y2="174.4" stroke="#c8c8c8" stroke-width="1.9"/>
<line x1="635.2" y1="166.3" x2="625.5" y2="168.7" stroke="#c8c8c8" stroke-width="1.9"/>
<line x1="615.8" y1="136.8" x2="614.2" y2="144.8" stroke="#c8c8c8" stroke-width="1.9"/>
<line x1="600" y1="142.1" x2="605.3" y2="148.1" stroke="#c8c8c8" stroke-width="1.9"/>
<line x1="634.4" y1="141.6" x2="631.9" y2="149.4" stroke="#c8c8c8" stroke-width="1.9"/>
<line x1="645.6" y1="155.5" x2="637.9" y2="157.7" stroke="#c8c8c8" stroke-width="1.9"/>
<line x1="595.6" y1="160.3" x2="602.9" y2="158.2" stroke="#c8c8c8" stroke-width="1.9"/>
<line x1="640" y1="172.7" x2="635.2" y2="166.3" stroke="#c8c8c8" stroke-width="1.9"/>
<line x1="619.4" y1="174.8" x2="625.5" y2="168.7" stroke="#c8c8c8" stroke-width="1.9"/>
<circle cx="615.8" cy="136.8" r="1.66" fill="url(#gHl)"/>
<circle cx="634.4" cy="141.6" r="1.66" fill="url(#gHl)"/>
<circle cx="600" cy="142.1" r="1.66" fill="url(#gHl)"/>
<circle cx="645.6" cy="155.5" r="1.66" fill="url(#gHl)"/>
<circle cx="595.6" cy="160.3" r="1.66" fill="url(#gHl)"/>
<circle cx="640" cy="172.7" r="1.66" fill="url(#gHl)"/>
<circle cx="619.4" cy="174.8" r="1.66" fill="url(#gHl)"/>
<circle cx="614.2" cy="144.8" r="2.94" fill="url(#gCl)"/>
<circle cx="605.3" cy="148.1" r="2.94" fill="url(#gCl)"/>
<circle cx="631.9" cy="149.4" r="2.94" fill="url(#gCl)"/>
<circle cx="622.3" cy="151" r="2.94" fill="url(#gCl)"/>
<circle cx="637.9" cy="157.7" r="2.94" fill="url(#gCl)"/>
<circle cx="602.9" cy="158.2" r="2.94" fill="url(#gCl)"/>
<circle cx="619" cy="161" r="2.94" fill="url(#gCl)"/>
<circle cx="610.2" cy="164.2" r="2.94" fill="url(#gCl)"/>
<circle cx="635.2" cy="166.3" r="2.94" fill="url(#gCl)"/>
<circle cx="625.5" cy="168.7" r="2.88" fill="url(#gN)"/>
<circle cx="609.8" cy="174.4" r="2.88" fill="url(#gO)"/>
<line x1="690.6" y1="160.4" x2="680.4" y2="164.9" stroke="#c8c8c8" stroke-width="2.17"/>
<line x1="690.6" y1="160.4" x2="699.4" y2="167.2" stroke="#c8c8c8" stroke-width="2.17"/>
<line x1="680.4" y1="164.9" x2="678.1" y2="175.5" stroke="#c8c8c8" stroke-width="2.17"/>
<line x1="699.4" y1="167.2" x2="710" y2="164.3" stroke="#c8c8c8" stroke-width="2.17"/>
<line x1="699.4" y1="167.2" x2="697" y2="178.2" stroke="#c8c8c8" stroke-width="2.17"/>
<line x1="710" y1="164.3" x2="717.5" y2="172" stroke="#c8c8c8" stroke-width="2.17"/>
<line x1="717.5" y1="172" x2="715.4" y2="182.2" stroke="#c8c8c8" stroke-width="2.17"/>
<line x1="678.1" y1="175.5" x2="686.6" y2="182.6" stroke="#c8c8c8" stroke-width="2.17"/>
<line x1="697" y1="178.2" x2="686.6" y2="182.6" stroke="#c8c8c8" stroke-width="2.17"/>
<line x1="697" y1="178.2" x2="705" y2="185.5" stroke="#c8c8c8" stroke-width="2.17"/>
<line x1="686.6" y1="182.6" x2="685.8" y2="192.8" stroke="#c8c8c8" stroke-width="2.17"/>
<line x1="715.4" y1="182.2" x2="705" y2="185.5" stroke="#c8c8c8" stroke-width="2.17"/>
<line x1="692" y1="151.6" x2="690.6" y2="160.4" stroke="#c8c8c8" stroke-width="2.17"/>
<line x1="673.9" y1="158.3" x2="680.4" y2="164.9" stroke="#c8c8c8" stroke-width="2.17"/>
<line x1="711.8" y1="155.6" x2="710" y2="164.3" stroke="#c8c8c8" stroke-width="2.17"/>
<line x1="726" y1="169.3" x2="717.5" y2="172" stroke="#c8c8c8" stroke-width="2.17"/>
<line x1="670.7" y1="177.8" x2="678.1" y2="175.5" stroke="#c8c8c8" stroke-width="2.17"/>
<line x1="721.6" y1="188.4" x2="715.4" y2="182.2" stroke="#c8c8c8" stroke-width="2.17"/>
<line x1="702.3" y1="192.4" x2="705" y2="185.5" stroke="#c8c8c8" stroke-width="2.17"/>
<circle cx="692" cy="151.6" r="1.9" fill="url(#gHl)"/>
<circle cx="711.8" cy="155.6" r="1.9" fill="url(#gHl)"/>
<circle cx="673.9" cy="158.3" r="1.9" fill="url(#gHl)"/>
<circle cx="726" cy="169.3" r="1.9" fill="url(#gHl)"/>
<circle cx="670.7" cy="177.8" r="1.9" fill="url(#gHl)"/>
<circle cx="721.6" cy="188.4" r="1.9" fill="url(#gHl)"/>
<circle cx="702.3" cy="192.4" r="1.9" fill="url(#gHl)"/>
<circle cx="690.6" cy="160.4" r="3.36" fill="url(#gCl)"/>
<circle cx="710" cy="164.3" r="3.36" fill="url(#gCl)"/>
<circle cx="680.4" cy="164.9" r="3.36" fill="url(#gCl)"/>
<circle cx="699.4" cy="167.2" r="3.36" fill="url(#gCl)"/>
<circle cx="717.5" cy="172" r="3.36" fill="url(#gCl)"/>
<circle cx="678.1" cy="175.5" r="3.36" fill="url(#gCl)"/>
<circle cx="697" cy="178.2" r="3.36" fill="url(#gCl)"/>
<circle cx="715.4" cy="182.2" r="3.36" fill="url(#gCl)"/>
<circle cx="686.6" cy="182.6" r="3.36" fill="url(#gCl)"/>
<circle cx="705" cy="185.5" r="3.29" fill="url(#gN)"/>
<circle cx="685.8" cy="192.8" r="3.29" fill="url(#gO)"/>
<line x1="583.2" y1="216.1" x2="573.1" y2="219.4" stroke="#c8c8c8" stroke-width="1.91"/>
<line x1="583.2" y1="216.1" x2="590.2" y2="223.9" stroke="#c8c8c8" stroke-width="1.91"/>
<line x1="573.1" y1="219.4" x2="569.2" y2="228.2" stroke="#c8c8c8" stroke-width="1.91"/>
<line x1="590.2" y1="223.9" x2="601" y2="221.8" stroke="#c8c8c8" stroke-width="1.91"/>
<line x1="590.2" y1="223.9" x2="586.5" y2="233.1" stroke="#c8c8c8" stroke-width="1.91"/>
<line x1="601" y1="221.8" x2="606.6" y2="229.8" stroke="#c8c8c8" stroke-width="1.91"/>
<line x1="569.2" y1="228.2" x2="576" y2="234.7" stroke="#c8c8c8" stroke-width="1.91"/>
<line x1="606.6" y1="229.8" x2="603.1" y2="238.4" stroke="#c8c8c8" stroke-width="1.91"/>
<line x1="586.5" y1="233.1" x2="576" y2="234.7" stroke="#c8c8c8" stroke-width="1.91"/>
<line x1="586.5" y1="233.1" x2="592.4" y2="240.6" stroke="#c8c8c8" stroke-width="1.91"/>
<line x1="576" y1="234.7" x2="573.1" y2="243.5" stroke="#c8c8c8" stroke-width="1.91"/>
<line x1="603.1" y1="238.4" x2="592.4" y2="240.6" stroke="#c8c8c8" stroke-width="1.91"/>
<line x1="585.6" y1="209.4" x2="583.2" y2="216.1" stroke="#c8c8c8" stroke-width="1.91"/>
<line x1="567.1" y1="212.6" x2="573.1" y2="219.4" stroke="#c8c8c8" stroke-width="1.91"/>
<line x1="604.2" y1="215.3" x2="601" y2="221.8" stroke="#c8c8c8" stroke-width="1.91"/>
<line x1="561.5" y1="229.4" x2="569.2" y2="228.2" stroke="#c8c8c8" stroke-width="1.91"/>
<line x1="613" y1="229.4" x2="606.6" y2="229.8" stroke="#c8c8c8" stroke-width="1.91"/>
<line x1="580" y1="246.8" x2="573.1" y2="243.5" stroke="#c8c8c8" stroke-width="1.91"/>
<line x1="607.4" y1="244.4" x2="603.1" y2="238.4" stroke="#c8c8c8" stroke-width="1.91"/>
<circle cx="585.6" cy="209.4" r="1.67" fill="url(#gHl)"/>
<circle cx="567.1" cy="212.6" r="1.67" fill="url(#gHl)"/>
<circle cx="604.2" cy="215.3" r="1.67" fill="url(#gHl)"/>
<circle cx="561.5" cy="229.4" r="1.67" fill="url(#gHl)"/>
<circle cx="613" cy="229.4" r="1.67" fill="url(#gHl)"/>
<circle cx="607.4" cy="244.4" r="1.67" fill="url(#gHl)"/>
<circle cx="580" cy="246.8" r="1.67" fill="url(#gHl)"/>
<circle cx="583.2" cy="216.1" r="2.96" fill="url(#gCl)"/>
<circle cx="573.1" cy="219.4" r="2.96" fill="url(#gCl)"/>
<circle cx="601" cy="221.8" r="2.96" fill="url(#gCl)"/>
<circle cx="590.2" cy="223.9" r="2.96" fill="url(#gCl)"/>
<circle cx="569.2" cy="228.2" r="2.96" fill="url(#gCl)"/>
<circle cx="606.6" cy="229.8" r="2.96" fill="url(#gCl)"/>
<circle cx="586.5" cy="233.1" r="2.96" fill="url(#gCl)"/>
<circle cx="576" cy="234.7" r="2.96" fill="url(#gCl)"/>
<circle cx="603.1" cy="238.4" r="2.96" fill="url(#gCl)"/>
<circle cx="592.4" cy="240.6" r="2.9" fill="url(#gN)"/>
<circle cx="573.1" cy="243.5" r="2.9" fill="url(#gO)"/>
</svg>
</body></html>
